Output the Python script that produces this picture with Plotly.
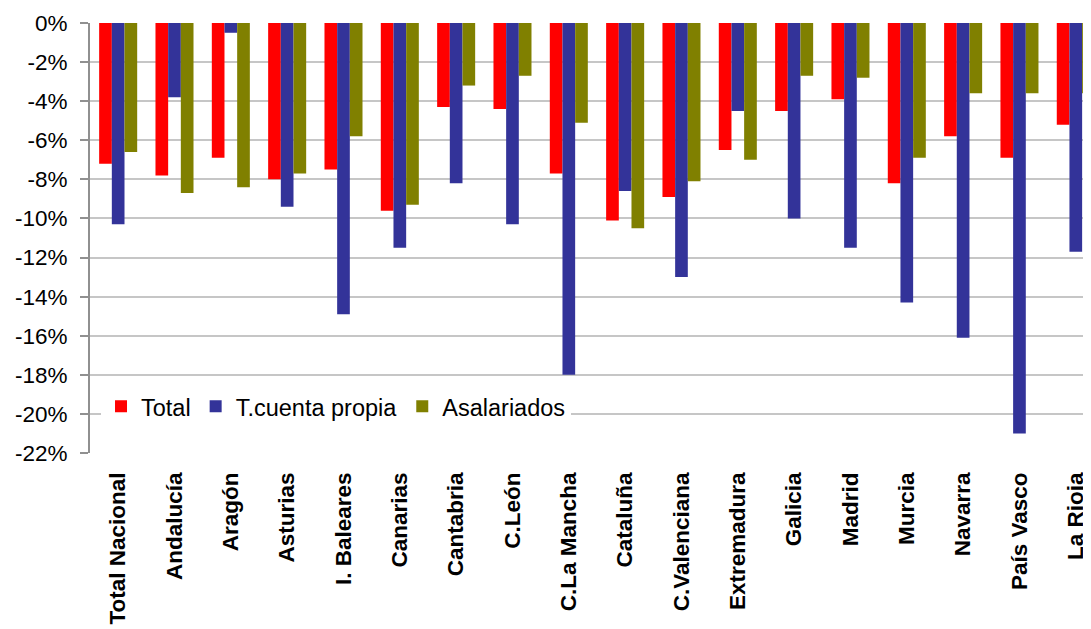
import plotly.graph_objects as go

regiones = ["Total Nacional", "Andalucía", "Aragón", "Asturias", "I. Baleares", "Canarias",
            "Cantabria", "C.León", "C.La Mancha", "Cataluña", "C.Valenciana", "Extremadura",
            "Galicia", "Madrid", "Murcia", "Navarra", "País Vasco", "La Rioja"]

total = [-7.2, -7.8, -6.9, -8.0, -7.5, -9.6, -4.3, -4.4, -7.7, -10.1, -8.9, -6.5,
         -4.5, -3.9, -8.2, -5.8, -6.9, -5.2]
cuenta_propia = [-10.3, -3.8, -0.5, -9.4, -14.9, -11.5, -8.2, -10.3, -18.0, -8.6, -13.0, -4.5,
                 -10.0, -11.5, -14.3, -16.1, -21.0, -11.7]
asalariados = [-6.6, -8.7, -8.4, -7.7, -5.8, -9.3, -3.2, -2.7, -5.1, -10.5, -8.1, -7.0,
               -2.7, -2.8, -6.9, -3.6, -3.6, -3.6]

y_ticks = [0, -2, -4, -6, -8, -10, -12, -14, -16, -18, -20, -22]
y_labels = ["0%", "-2%", "-4%", "-6%", "-8%", "-10%", "-12%", "-14%", "-16%", "-18%", "-20%", "-22%"]

series = [
    ("Total", total, "#FF0000"),
    ("T.cuenta propia", cuenta_propia, "#333399"),
    ("Asalariados", asalariados, "#808000"),
]

fig = go.Figure()
for nombre, valores, color in series:
    fig.add_trace(go.Bar(x=list(range(len(regiones))), y=valores, name=nombre,
                         marker=dict(color=color, line=dict(width=0))))

x_range = [-0.5, 17.27]
fuente = "Liberation Sans, Arial, sans-serif"

# la página deja 8 px de margen en el body, se compensa aquí
fig.update_layout(
    width=1083, height=621,
    margin=dict(l=82, r=0, t=15, b=176),
    paper_bgcolor="white", plot_bgcolor="white",
    barmode="group", bargap=0.325, bargroupgap=0,
    font=dict(family=fuente, color="black"),
    showlegend=True,
    legend=dict(orientation="h", x=0.011, xanchor="left", y=0.108, yanchor="middle",
                bgcolor="white", font=dict(size=23.5, family=fuente), traceorder="normal",
                itemwidth=30),
    xaxis=dict(range=x_range, tickmode="array", tickvals=list(range(len(regiones))),
               ticktext=["<b>%s</b>" % r for r in regiones], tickangle=-90,
               tickfont=dict(size=22.5, family=fuente), ticks="", showgrid=False,
               showline=False, zeroline=False, ticklabelstandoff=14, automargin=False),
    xaxis2=dict(range=x_range, overlaying="x", side="top", anchor="y",
                tickmode="array", tickvals=[i - 0.5 for i in range(len(regiones) + 1)],
                showticklabels=False, ticks="inside", ticklen=9, tickwidth=1.5,
                tickcolor="#a0a0a0", showline=True, linecolor="#a0a0a0", linewidth=2,
                showgrid=False, zeroline=False, automargin=False),
    yaxis=dict(range=[-22, 0], tickmode="array", tickvals=y_ticks, ticktext=y_labels,
               tickfont=dict(size=22.5, family=fuente), ticks="outside", ticklen=8,
               tickwidth=1.5, tickcolor="#909090", showline=True, linecolor="#909090",
               linewidth=2, showgrid=True, gridcolor="#c6c6c6", gridwidth=1.5,
               zeroline=False, ticklabelstandoff=8, automargin=False),
)

fig.write_html("out.html")
